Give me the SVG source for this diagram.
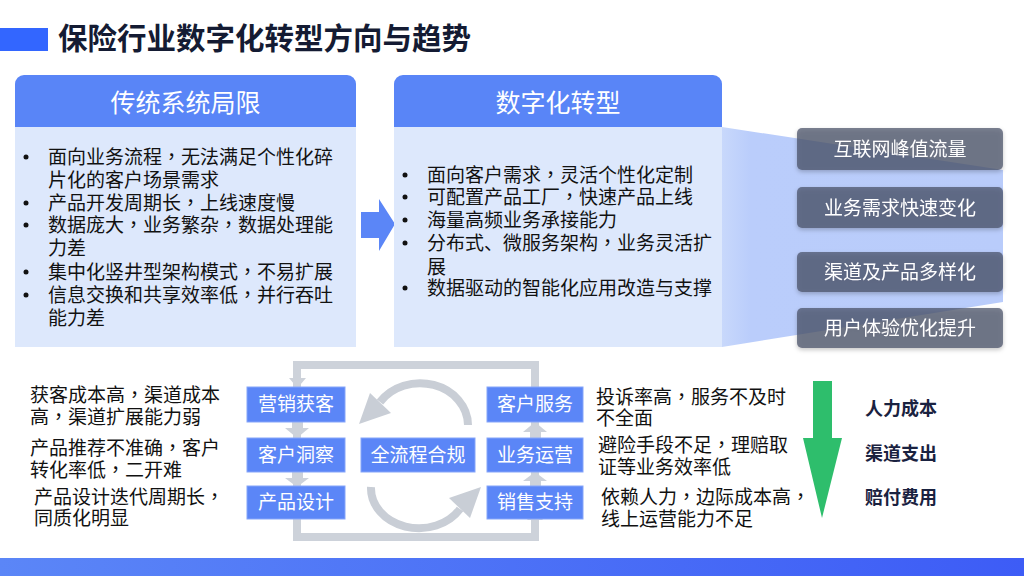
<svg xmlns="http://www.w3.org/2000/svg" width="1024" height="576" viewBox="0 0 1024 576">
<style>
text{font-family:"Noto Sans CJK SC","Noto Sans",sans-serif;}
.cm{font-family:"Noto Sans CJK TC","Noto Sans CJK SC",sans-serif;}
.title{font-size:29.5px;font-weight:bold;fill:#141b33;}
.hdr{fill:#5985f7;}
.hdrt{font-size:25px;fill:#fff;text-anchor:middle;}
.body{fill:#dde8fc;}
.bt{font-size:19px;fill:#111;}
.dot{fill:#111;}
.gbox{fill:#4a5068;fill-opacity:0.72;}
.gt{font-size:19px;fill:#fff;text-anchor:middle;}
.fbox{fill:#5b86f7;stroke:#86a5f9;stroke-width:1;}
.ft{font-size:19px;fill:#fff;text-anchor:middle;}
.frame{fill:none;stroke:#cdd2da;stroke-width:8;}
.garr{fill:#cdd2da;}
.arc{fill:none;stroke:#c9ced6;stroke-width:8;}
.desc{font-size:19px;fill:#111;}
.bold{font-size:18px;font-weight:bold;fill:#1a2240;}
</style>
<defs>
<linearGradient id="bar" x1="0" y1="0" x2="1" y2="0">
<stop offset="0" stop-color="#5b86f7"/>
<stop offset="1" stop-color="#3d5cf6"/>
</linearGradient>
<linearGradient id="trap" x1="0" y1="0" x2="1" y2="0">
<stop offset="0" stop-color="#c8d8fb"/>
<stop offset="0.1" stop-color="#bacdfb"/>
<stop offset="1" stop-color="#b9ccfb"/>
</linearGradient>
<filter id="sh" x="-10%" y="-20%" width="120%" height="150%">
<feDropShadow dx="0" dy="2" stdDeviation="2" flood-color="#000" flood-opacity="0.3"/>
</filter>
</defs>
<rect width="1024" height="576" fill="#fff"/>

<g id="title">
<rect x="0" y="28" width="48" height="23" fill="#3366ff"/>
<text x="58" y="49" class="title">保险行业数字化转型方向与趋势</text>
</g>

<g id="trapezoid">
<polygon points="722,127 1003,170 1003,302 722,347" fill="url(#trap)"/>
</g>

<g id="panel-traditional">
<rect x="15" y="75" width="341" height="52" rx="9" class="hdr"/>
<rect x="15" y="110" width="341" height="17" class="hdr"/>
<text x="185.5" y="112" class="hdrt">传统系统局限</text>
<rect x="15" y="127" width="341" height="220" class="body"/>
<circle cx="26" cy="157" r="2.5" class="dot"/>
<circle cx="26" cy="203" r="2.5" class="dot"/>
<circle cx="26" cy="225" r="2.5" class="dot"/>
<circle cx="26" cy="272" r="2.5" class="dot"/>
<circle cx="26" cy="295" r="2.5" class="dot"/>
<text class="bt">
<tspan x="48" y="164">面向业务流程<tspan class="cm">，</tspan>无法满足个性化碎</tspan>
<tspan x="48" y="187">片化的客户场景需求</tspan>
<tspan x="48" y="210">产品开发周期长<tspan class="cm">，</tspan>上线速度慢</tspan>
<tspan x="48" y="232">数据庞大<tspan class="cm">，</tspan>业务繁杂<tspan class="cm">，</tspan>数据处理能</tspan>
<tspan x="48" y="255">力差</tspan>
<tspan x="48" y="279">集中化竖井型架构模式<tspan class="cm">，</tspan>不易扩展</tspan>
<tspan x="48" y="302">信息交换和共享效率低<tspan class="cm">，</tspan>并行吞吐</tspan>
<tspan x="48" y="325">能力差</tspan>
</text>
</g>

<g id="arrow-right">
<polygon points="361,212 379,212 379,199 395,224 379,251 379,238 361,238" fill="#5b86f7"/>
</g>

<g id="panel-digital">
<rect x="394" y="75" width="328" height="52" rx="9" class="hdr"/>
<rect x="394" y="110" width="328" height="17" class="hdr"/>
<text x="558" y="112" class="hdrt">数字化转型</text>
<rect x="394" y="127" width="328" height="220" class="body"/>
<circle cx="405" cy="175" r="2.5" class="dot"/>
<circle cx="405" cy="197" r="2.5" class="dot"/>
<circle cx="405" cy="220" r="2.5" class="dot"/>
<circle cx="405" cy="243" r="2.5" class="dot"/>
<circle cx="405" cy="288" r="2.5" class="dot"/>
<text class="bt">
<tspan x="427" y="182">面向客户需求<tspan class="cm">，</tspan>灵活个性化定制</tspan>
<tspan x="427" y="204">可配置产品工厂<tspan class="cm">，</tspan>快速产品上线</tspan>
<tspan x="427" y="227">海量高频业务承接能力</tspan>
<tspan x="427" y="250">分布式、微服务架构<tspan class="cm">，</tspan>业务灵活扩</tspan>
<tspan x="427" y="274">展</tspan>
<tspan x="427" y="295">数据驱动的智能化应用改造与支撑</tspan>
</text>
</g>

<g id="trend-1" filter="url(#sh)">
<rect x="797" y="128" width="206" height="42" rx="5" class="gbox"/>
<text x="900" y="156" class="gt">互联网峰值流量</text>
</g>
<g id="trend-2" filter="url(#sh)">
<rect x="797" y="187" width="206" height="41" rx="5" class="gbox"/>
<text x="900" y="215" class="gt">业务需求快速变化</text>
</g>
<g id="trend-3" filter="url(#sh)">
<rect x="797" y="252" width="206" height="40" rx="5" class="gbox"/>
<text x="900" y="279" class="gt">渠道及产品多样化</text>
</g>
<g id="trend-4" filter="url(#sh)">
<rect x="797" y="308" width="206" height="40" rx="5" class="gbox"/>
<text x="900" y="335" class="gt">用户体验优化提升</text>
</g>

<g id="connectors">
<rect x="297" y="365" width="238" height="172" class="frame"/>
<polygon points="289,378 306,378 297.5,388" class="garr"/>
<polygon points="527,520 543,520 535,510" class="garr"/>
<rect x="292" y="420" width="11" height="9" class="garr"/>
<polygon points="285,428 309,428 297,438" class="garr"/>
<rect x="292" y="470" width="11" height="9" class="garr"/>
<polygon points="285,478 309,478 297,487" class="garr"/>
<rect x="530" y="431" width="11" height="9" class="garr"/>
<polygon points="523,432 547,432 535,422" class="garr"/>
<rect x="530" y="480" width="11" height="8" class="garr"/>
<polygon points="523,481 547,481 535,472" class="garr"/>
<path d="M468,425 A48,42 0 0 0 380,402" class="arc"/>
<polygon points="370,393 391,413 359,424" fill="#c9ced6"/>
<path d="M371,487 A48,40 0 0 0 460,509" class="arc"/>
<polygon points="470,518 449,498 481,487" fill="#c9ced6"/>
</g>

<g id="node-marketing">
<rect x="247" y="387" width="98" height="35" class="fbox"/>
<text x="296" y="411" class="ft">营销获客</text>
</g>
<g id="node-insight">
<rect x="247" y="438" width="98" height="34" class="fbox"/>
<text x="296" y="462" class="ft">客户洞察</text>
</g>
<g id="node-design">
<rect x="247" y="486" width="98" height="33" class="fbox"/>
<text x="296" y="509" class="ft">产品设计</text>
</g>
<g id="node-compliance">
<rect x="361" y="438" width="114" height="34" class="fbox"/>
<text x="418" y="462" class="ft">全流程合规</text>
</g>
<g id="node-service">
<rect x="487" y="387" width="96" height="35" class="fbox"/>
<text x="535" y="411" class="ft">客户服务</text>
</g>
<g id="node-operation">
<rect x="487" y="438" width="96" height="34" class="fbox"/>
<text x="535" y="462" class="ft">业务运营</text>
</g>
<g id="node-sales">
<rect x="487" y="486" width="96" height="33" class="fbox"/>
<text x="535" y="509" class="ft">销售支持</text>
</g>

<g id="left-descriptions">
<text class="desc"><tspan x="30" y="402">获客成本高<tspan class="cm">，</tspan>渠道成本</tspan><tspan x="30" y="424">高<tspan class="cm">，</tspan>渠道扩展能力弱</tspan></text>
<text class="desc"><tspan x="30" y="455">产品推荐不准确<tspan class="cm">，</tspan>客户</tspan><tspan x="30" y="477">转化率低<tspan class="cm">，</tspan>二开难</tspan></text>
<text class="desc"><tspan x="34" y="504">产品设计迭代周期长<tspan class="cm">，</tspan></tspan><tspan x="34" y="525">同质化明显</tspan></text>
</g>

<g id="right-descriptions">
<text class="desc"><tspan x="596" y="404">投诉率高<tspan class="cm">，</tspan>服务不及时</tspan><tspan x="596" y="425">不全面</tspan></text>
<text class="desc"><tspan x="598" y="452">避险手段不足<tspan class="cm">，</tspan>理赔取</tspan><tspan x="598" y="474">证等业务效率低</tspan></text>
<text class="desc"><tspan x="601" y="504">依赖人力<tspan class="cm">，</tspan>边际成本高<tspan class="cm">，</tspan></tspan><tspan x="601" y="526">线上运营能力不足</tspan></text>
</g>

<g id="cost-arrow">
<polygon points="813,381 832,381 832,438 842,438 822,518 803,438 813,438" fill="#2ebe6c"/>
</g>

<g id="cost-labels">
<text x="865" y="415" class="bold">人力成本</text>
<text x="865" y="460" class="bold">渠道支出</text>
<text x="865" y="504" class="bold">赔付费用</text>
</g>

<rect x="0" y="558" width="1024" height="18" fill="url(#bar)"/>
</svg>
